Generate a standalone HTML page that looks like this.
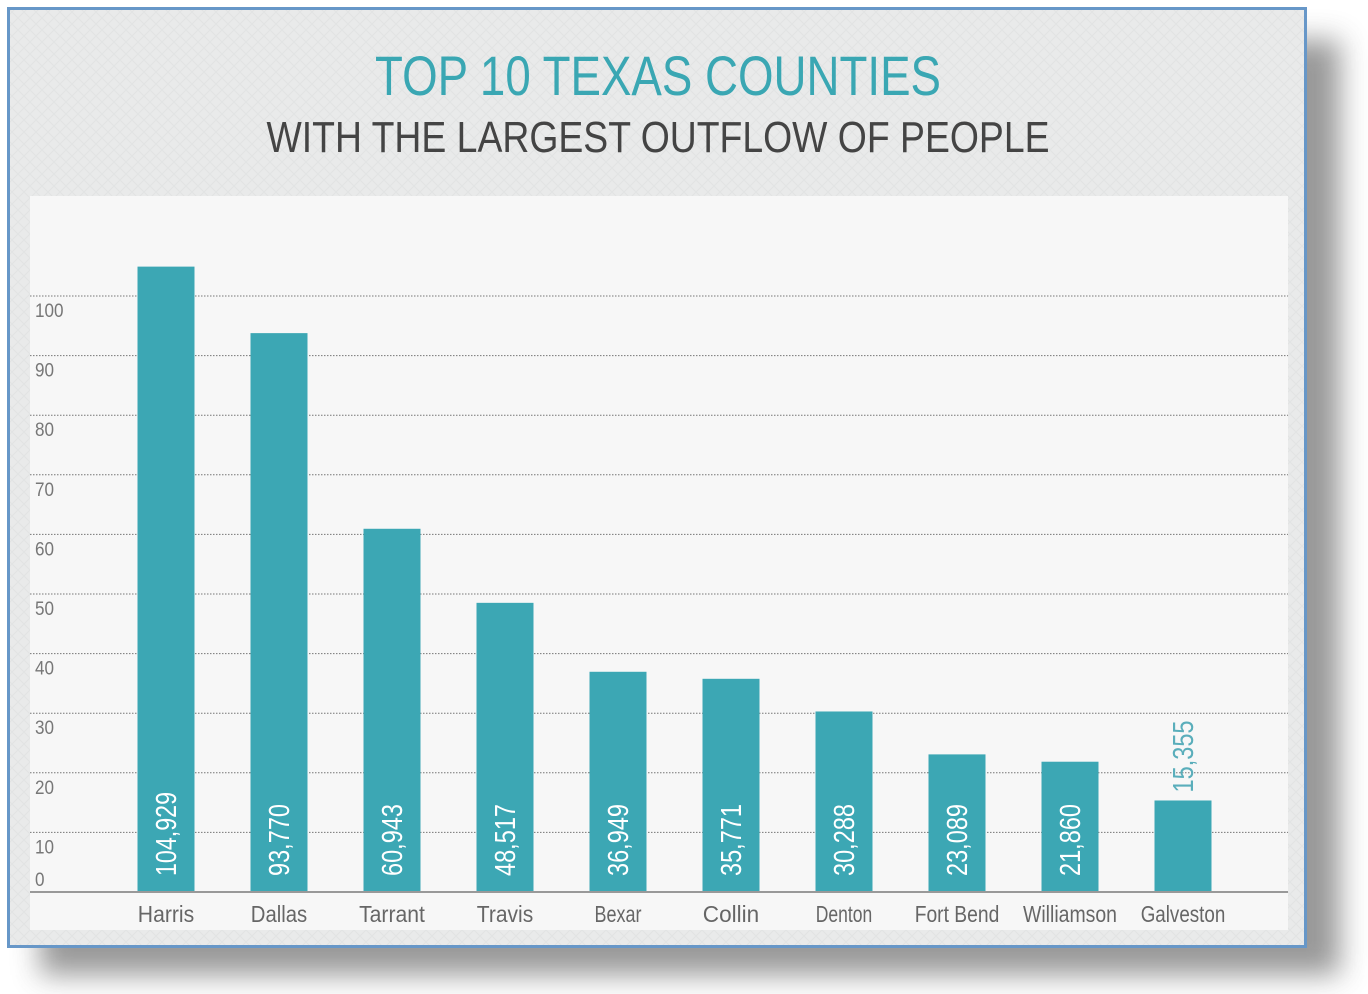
<!DOCTYPE html>
<html><head><meta charset="utf-8"><style>
html,body{margin:0;padding:0;background:#fff;}
svg{display:block;font-family:"Liberation Sans",sans-serif;}
</style></head><body>
<svg width="1368" height="994" viewBox="0 0 1368 994">
<defs>
<filter id="sh" x="-10%" y="-10%" width="130%" height="130%"><feGaussianBlur stdDeviation="14"/></filter>
<pattern id="pat" width="12" height="12" patternUnits="userSpaceOnUse"><rect width="12" height="12" fill="#e9eaea"/><path d="M0 0L12 12M12 0L0 12" stroke="#e2e3e3" stroke-width="1"/></pattern>
</defs>
<rect x="40" y="40" width="1300" height="935" fill="#555" opacity="0.6" filter="url(#sh)"/>
<rect x="8.5" y="8.5" width="1297" height="938" fill="url(#pat)" stroke="#6797c8" stroke-width="3"/>
<text x="658" y="95" text-anchor="middle" font-size="56" fill="#3aa7b3" textLength="566" lengthAdjust="spacingAndGlyphs">TOP 10 TEXAS COUNTIES</text>
<text x="658" y="152" text-anchor="middle" font-size="44" fill="#444" textLength="783" lengthAdjust="spacingAndGlyphs">WITH THE LARGEST OUTFLOW OF PEOPLE</text>
<rect x="30" y="196" width="1258" height="734" fill="#f7f7f7"/>
<g id="grid"></g><g id="bars"></g>
<line x1="30" y1="892" x2="1288" y2="892" stroke="#999" stroke-width="2"/>
</svg>
<script>
const categories=["Harris","Dallas","Tarrant","Travis","Bexar","Collin","Denton","Fort Bend","Williamson","Galveston"];
const values=[104929,93770,60943,48517,36949,35771,30288,23089,21860,15355];
const valueLabels=["104,929","93,770","60,943","48,517","36,949","35,771","30,288","23,089","21,860","15,355"];
const yTicks=[0,10,20,30,40,50,60,70,80,90,100];
const NS="http://www.w3.org/2000/svg";
const y0=892,pxPerK=5.96;
function yScale(v){return y0-v/1000*pxPerK;}
function xCenter(i){return 166+i*113;}
function mk(t,a,p){const e=document.createElementNS(NS,t);for(const k in a)e.setAttribute(k,a[k]);p.appendChild(e);return e;}
const grid=document.getElementById('grid'),bars=document.getElementById('bars');
yTicks.forEach(t=>{
  const y=yScale(t*1000);
  if(t>0){const l=mk('line',{x1:30,x2:1288,y1:y,y2:y,stroke:'#777','stroke-width':1,'stroke-dasharray':'1.5,1.5'},grid);
  
  }
  const tx=mk('text',{x:35,y:t===0?886:y+21,'font-size':19,fill:'#777',textLength:String(t).length*9.5,lengthAdjust:'spacingAndGlyphs'},grid);
  tx.textContent=t;
  
  
});
categories.forEach((c,i)=>{
  const cx=xCenter(i),top=yScale(values[i]);
  const r=mk('rect',{x:cx-28.5,y:top,width:57,height:y0-top,fill:'#3ca7b4'},bars);
  
  
  const inside=(y0-top)>110;
  const by=inside?876:top-8;
  const lab=valueLabels[i];
  const v=mk('text',{x:0,y:0,'font-size':29,fill:inside?'#fff':'#5aaebb',transform:`translate(${cx+10},${by}) rotate(-90)`,textLength:lab.length*12,lengthAdjust:'spacingAndGlyphs'},bars);
  v.textContent=lab;
  
  
  const xl=mk('text',{x:cx,y:922,'text-anchor':'middle','font-size':23,fill:'#666',textLength:c.length*9.4,lengthAdjust:'spacingAndGlyphs'},bars);
  xl.textContent=c;
  
  
});
</script>
</body></html>
